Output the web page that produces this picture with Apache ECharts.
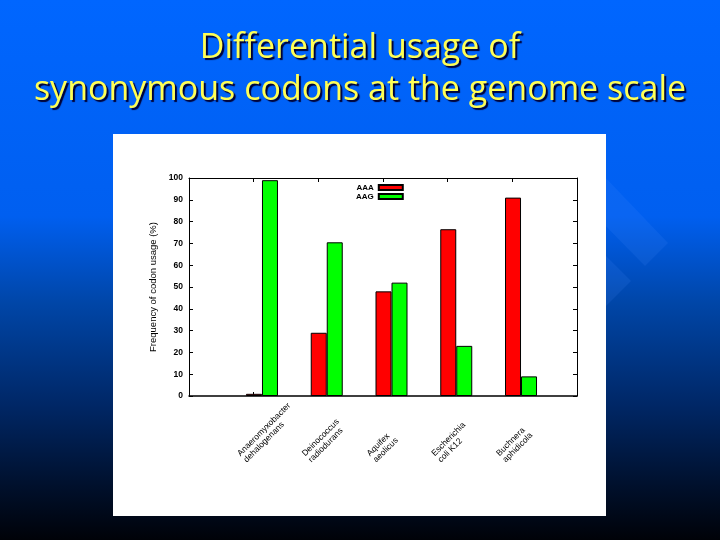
<!DOCTYPE html>
<html>
<head>
<meta charset="utf-8">
<script src="https://cdn.jsdelivr.net/npm/echarts@6/dist/echarts.min.js"></script>
<style>html,body{margin:0;padding:0;background:#000;}#c{width:720px;height:540px;}</style>
</head>
<body>
<div id="c"></div>
<script>
const titleLines = ['Differential usage of', 'synonymous codons at the genome scale'];
const categories = ['Anaeromyxobacter\ndehalogenans', 'Deinococcus\nradiodurans', 'Aquifex\naeolicus', 'Escherichia\ncoli K12', 'Buchnera\naphidicola'];
const seriesNames = ['AAA', 'AAG'];
const aaaValues = [1, 29, 48, 76.5, 91];
const aagValues = [99, 70.5, 52, 23, 9];
const yMin = 0, yMax = 100, yStep = 10;
const yAxisName = 'Frequency of codon usage (%)';

const chart = echarts.init(document.getElementById('c'), null, {renderer: 'canvas'});
const black = '#000';
const plotTop = 178, plotH = 218;
const option = {
  animation: false,
  backgroundColor: {
    type: 'linear', x: 0, y: 0, x2: 0, y2: 1,
    colorStops: [
      {offset: 0, color: '#0066ff'},
      {offset: 0.4, color: '#005ff0'},
      {offset: 0.56, color: '#0046a8'},
      {offset: 0.75, color: '#002766'},
      {offset: 0.9, color: '#00102c'},
      {offset: 1, color: '#000208'}
    ]
  },
  title: {
    text: titleLines.join('\n'),
    left: 'center',
    top: 22,
    textStyle: {
      color: '#ffff55', fontSize: 34, lineHeight: 42, fontWeight: 'normal',
      fontFamily: 'Open Sans',
      textShadowColor: '#000033', textShadowOffsetX: 2, textShadowOffsetY: 2, textShadowBlur: 1
    }
  },
  graphic: [
    {type: 'polygon', z: -5, shape: {points: [[600, 172], [668, 243], [645, 266], [590, 210]]}, style: {fill: 'rgba(80,150,255,0.13)'}},
    {type: 'polygon', z: -5, shape: {points: [[600, 250], [631, 281], [600, 312], [590, 300]]}, style: {fill: 'rgba(80,150,255,0.13)'}},
    {type: 'rect', z: -1, shape: {x: 113, y: 134, width: 493, height: 382}, style: {fill: '#ffffff'}}
  ],
  legend: {
    data: seriesNames,
    orient: 'vertical',
    left: 351, top: 178,
    align: 'right',
    icon: 'rect',
    itemWidth: 24, itemHeight: 5, itemGap: 0,
    textStyle: {fontSize: 8, fontWeight: 'bold', color: black, fontFamily: 'Liberation Sans', lineHeight: 9, padding: [0, 0, 0, 0]}
  },
  grid: [
    {left: 189, top: plotTop, width: 388, height: plotH},
    {left: 229.6, top: plotTop, width: 323.8, height: plotH},
    {left: 209.6, top: plotTop, width: 323.8, height: plotH}
  ],
  xAxis: [
    {gridIndex: 0, type: 'value', min: -1, max: 5, interval: 1, position: 'bottom',
      axisLine: {show: true, onZero: false, lineStyle: {color: black, width: 1.5}},
      axisTick: {show: true, inside: true, length: 4, lineStyle: {color: black}},
      axisLabel: {show: false}, splitLine: {show: false}},
    {gridIndex: 0, type: 'value', min: -1, max: 5, interval: 1, position: 'top',
      axisLine: {show: true, onZero: false, lineStyle: {color: black, width: 1}},
      axisTick: {show: true, inside: true, length: 4, lineStyle: {color: black}},
      axisLabel: {show: false}, splitLine: {show: false}},
    {gridIndex: 1, type: 'category', data: categories, show: false},
    {gridIndex: 2, type: 'category', data: categories,
      axisLine: {show: false}, axisTick: {show: false}, splitLine: {show: false},
      axisLabel: {show: true, interval: 0, rotate: 45, align: 'left', verticalAlign: 'middle', margin: 62,
        fontSize: 8.5, lineHeight: 9, color: black, fontFamily: 'Liberation Sans'}}
  ],
  yAxis: [
    {gridIndex: 0, type: 'value', min: yMin, max: yMax, interval: yStep, position: 'left',
      name: yAxisName, nameLocation: 'middle', nameGap: 30, nameRotate: 90,
      nameTextStyle: {fontSize: 9.5, color: black, fontFamily: 'Liberation Sans'},
      axisLine: {show: true, onZero: false, lineStyle: {color: black, width: 1}},
      axisTick: {show: true, inside: true, length: 4, lineStyle: {color: black}},
      axisLabel: {fontSize: 8.5, fontWeight: 'bold', color: black, margin: 6, fontFamily: 'Liberation Sans'},
      splitLine: {show: false}},
    {gridIndex: 0, type: 'value', min: yMin, max: yMax, interval: yStep, position: 'right',
      axisLine: {show: true, onZero: false, lineStyle: {color: black, width: 1}},
      axisTick: {show: true, inside: true, length: 4, lineStyle: {color: black}},
      axisLabel: {show: false}, splitLine: {show: false}},
    {gridIndex: 1, type: 'value', min: yMin, max: yMax, show: false, splitLine: {show: false}},
    {gridIndex: 2, type: 'value', min: yMin, max: yMax, show: false, splitLine: {show: false}}
  ],
  series: [
    {name: seriesNames[0], type: 'bar', xAxisIndex: 2, yAxisIndex: 2, data: aaaValues,
      barWidth: 16, barGap: '0%', itemStyle: {color: '#ff0000', borderColor: black, borderWidth: 1}},
    {name: seriesNames[1], type: 'bar', xAxisIndex: 2, yAxisIndex: 2, data: aagValues,
      barWidth: 16, barGap: '0%', itemStyle: {color: '#00ff00', borderColor: black, borderWidth: 1}}
  ]
};
chart.setOption(option);
</script>
</body>
</html>
